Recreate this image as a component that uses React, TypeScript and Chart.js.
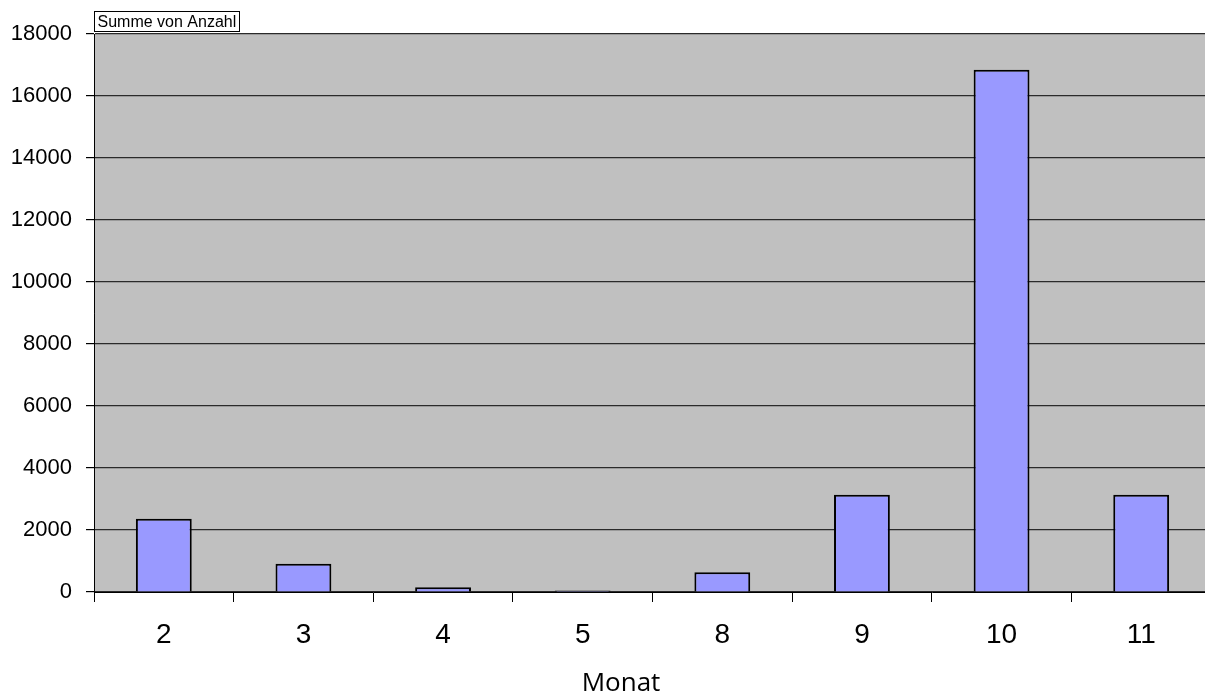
import { useEffect, useRef } from "react";
import { Chart, registerables } from "chart.js";

Chart.register(...registerables);

const categories = ["2", "3", "4", "5", "8", "9", "10", "11"];
const values = [2360, 910, 150, 50, 640, 3140, 16850, 3140];
const yMin = 0;
const yMax = 18000;
const yStep = 2000;
const seriesLabel = "Summe von Anzahl";
const axisTitle = "Monat";

const W = 1211;
const H = 697;

export default function App() {
  const ref = useRef<HTMLCanvasElement | null>(null);

  useEffect(() => {
    const canvas = ref.current;
    if (!canvas) return;

    const bgPlugin = {
      id: "bgPlugin",
      beforeDraw(chart: any) {
        const { ctx, chartArea } = chart;
        ctx.save();
        ctx.fillStyle = "#C0C0C0";
        ctx.fillRect(chartArea.left, chartArea.top, chartArea.right - chartArea.left, chartArea.bottom - chartArea.top);
        ctx.restore();
      },
      afterDraw(chart: any) {
        const { ctx, chartArea } = chart;
        ctx.save();
        ctx.font = "16px 'Liberation Sans', Arial, sans-serif";
        const tw = ctx.measureText(seriesLabel).width;
        const bx = chartArea.left + 0.5;
        const by = 11.5;
        const bw = Math.round(tw + 6);
        const bh = 20;
        ctx.fillStyle = "#FFFFFF";
        ctx.fillRect(bx, by, bw, bh);
        ctx.strokeStyle = "#000";
        ctx.lineWidth = 1;
        ctx.strokeRect(bx, by, bw, bh);
        ctx.fillStyle = "#000";
        ctx.textBaseline = "middle";
        ctx.textAlign = "left";
        ctx.fillText(seriesLabel, bx + 3, by + bh / 2 + 1);
        ctx.font = "26px 'Open Sans', sans-serif";
        ctx.textAlign = "center";
        ctx.textBaseline = "alphabetic";
        ctx.fillText(axisTitle, 621, 691);
        ctx.restore();
      },
    };

    const chart = new Chart(canvas, {
      type: "bar",
      data: {
        labels: categories,
        datasets: [
          {
            label: seriesLabel,
            data: values,
            backgroundColor: "#9999FF",
            borderColor: "#000000",
            borderWidth: 2,
            barPercentage: 0.4,
            categoryPercentage: 1,
          },
        ],
      },
      options: {
        responsive: false,
        animation: false,
        layout: { padding: { top: 34, left: 0, right: 0, bottom: 0 } },
        plugins: {
          legend: { display: false },
          tooltip: { enabled: false },
          title: { display: false },
        },
        scales: {
          x: {
            type: "category",
            offset: true,
            grid: {
              offset: true,
              drawOnChartArea: false,
              drawTicks: true,
              tickLength: 10,
              color: "#000",
              tickColor: "#000",
            },
            border: { display: true, color: "#000", width: 1 },
            ticks: {
              color: "#000",
              font: { family: "'Liberation Sans', Arial, sans-serif", size: 28 },
              padding: 16,
              maxRotation: 0,
            },
            afterFit(scale: any) {
              scale.height = 105;
            },
          },
          y: {
            min: yMin,
            max: yMax,
            grid: {
              color: "#2a2a2a",
              lineWidth: 1.2,
              drawTicks: true,
              tickLength: 8,
              tickColor: "#000",
            },
            border: { display: true, color: "#000", width: 1 },
            ticks: {
              stepSize: yStep,
              color: "#000",
              font: { family: "'Liberation Sans', Arial, sans-serif", size: 22 },
              padding: 14,
              callback: (v: any) => String(v),
            },
            afterFit(scale: any) {
              scale.width = 94;
            },
          },
        },
      },
      plugins: [bgPlugin],
    } as any);

    return () => chart.destroy();
  }, []);

  return (
    <div
      style={{
        position: "fixed",
        left: 0,
        top: 0,
        width: 1205,
        height: 697,
        overflow: "hidden",
        background: "#fff",
      }}
    >
      <canvas ref={ref} width={W} height={H} style={{ width: W, height: H, display: "block" }} />
    </div>
  );
}
